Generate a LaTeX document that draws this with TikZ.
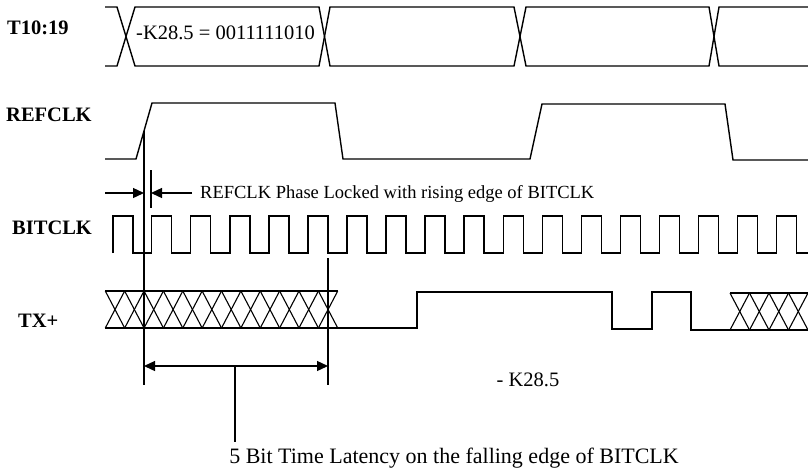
\documentclass[tikz,border=0pt]{standalone}
\usepackage{fontspec}
\setmainfont{Liberation Serif}
\usetikzlibrary{arrows.meta,calc}
\begin{document}
\begin{tikzpicture}[x=1pt,y=-1pt,
  wave/.style={line width=1.4pt, line join=miter},
  hatch/.style={line width=1.1pt},
  lbl/.style={font=\fontsize{20.5}{24}\selectfont\bfseries, anchor=west, inner sep=0pt},
  txt/.style={font=\fontsize{20.5}{24}\selectfont, inner sep=0pt},
  marker/.style={line width=1.2pt},
  tip/.style={-{Triangle[length=11pt,width=10pt]}, line width=1.3pt},
  dimarrow/.style={{Triangle[length=11pt,width=10pt]}-{Triangle[length=11pt,width=10pt]}, line width=1.3pt}]
\fill[white] (0,0) rectangle (808,475);
\useasboundingbox (0,0) rectangle (808,475);

% labels
\node[lbl] (lT) at (7,28) {T10:19};
\node[lbl] (lR) at (6,115) {REFCLK};
\node[lbl] (lB) at (12,228) {BITCLK};
\node[lbl] (lX) at (18,321) {TX+};

% T10:19 bus
\draw[wave] (105,7) -- (117,7) -- (135,66) -- (319,66) -- (330,7) -- (514,7) -- (526,66) -- (709,66) -- (719,7) -- (808,7);
\draw[wave] (105,66) -- (117,66) -- (135,7) -- (319,7) -- (330,66) -- (514,66) -- (526,7) -- (709,7) -- (719,66) -- (808,66);
\node[txt, anchor=west] (k1) at (136,33) {-K28.5 = 0011111010};

% REFCLK
\coordinate (ra) at (136,159);
\coordinate (rb) at (152,103);
\draw[wave] (105,159) -- (ra) -- (rb) -- (335,103) -- (343,159) -- (530,159) -- (542,104) -- (725,104) -- (733,160) -- (808,160);

% markers
\coordinate (m1top) at ($(ra)!0.5!(rb)$);
\coordinate (m1bot) at (144,385);
\draw[marker] (m1top) -- (m1bot);
\coordinate (m2top) at (151,170);
\coordinate (m2bot) at (151,208);
\draw[marker] (m2top) -- (m2bot);

% phase-lock arrows
\coordinate (aL) at (105,193);
\coordinate (aLt) at (144,193);
\coordinate (aR) at (192,193);
\coordinate (aRt) at (151,193);
\draw[tip] (aL) -- (aLt);
\draw[tip] (aR) -- (aRt);
\node[font=\fontsize{18.5}{22}\selectfont, anchor=west, inner sep=0pt] (plk) at (200,194) {REFCLK Phase Locked with rising edge of BITCLK};

% BITCLK
\draw[wave] (113,253) -- (113,216) -- (133,216) -- (133,253)
  \foreach \k in {0,...,16} { -- ({151.7+39.06*\k},253) -- ({151.7+39.06*\k},216) -- ({171.7+39.06*\k},216) -- ({171.7+39.06*\k},253) }
  -- (808,253);

% TX+ left hatch
\draw[hatch] (105.3,291) -- (337.7,291);
\foreach \i in {0,...,11} {
  \draw[hatch] ({105.3+19.37*\i},291) -- ({105.3+19.37*(\i+1)},328);
  \draw[hatch] ({105.3+19.37*\i},328) -- ({105.3+19.37*(\i+1)},291);
}
% TX+ waveform
\draw[wave] (105.3,328) -- (417,328) -- (417,292) -- (612,292) -- (612,329) -- (652,329) -- (652,292) -- (691,292) -- (691,330) -- (808,330);
% TX+ right hatch
\draw[hatch] (730,293) -- (808,293);
\foreach \i in {0,...,3} {
  \draw[hatch] ({730+19.5*\i},293) -- ({730+19.5*(\i+1)},330);
  \draw[hatch] ({730+19.5*\i},330) -- ({730+19.5*(\i+1)},293);
}

% latency markers
\coordinate (m3top) at (328,258);
\coordinate (m3bot) at (328,385);
\draw[marker] (m3top) -- (m3bot);
\coordinate (dL) at (144,366);
\coordinate (dR) at (328,366);
\draw[dimarrow] (dL) -- (dR);
\coordinate (st) at (235,366);
\coordinate (sb) at (235,442);
\draw[marker] (st) -- (sb);

\node[txt] (k2) at (528,380) {- K28.5};
\node[font=\fontsize{22}{26}\selectfont, inner sep=0pt] (lat) at (454,458) {5 Bit Time Latency on the falling edge of BITCLK};
\end{tikzpicture}
\end{document}
